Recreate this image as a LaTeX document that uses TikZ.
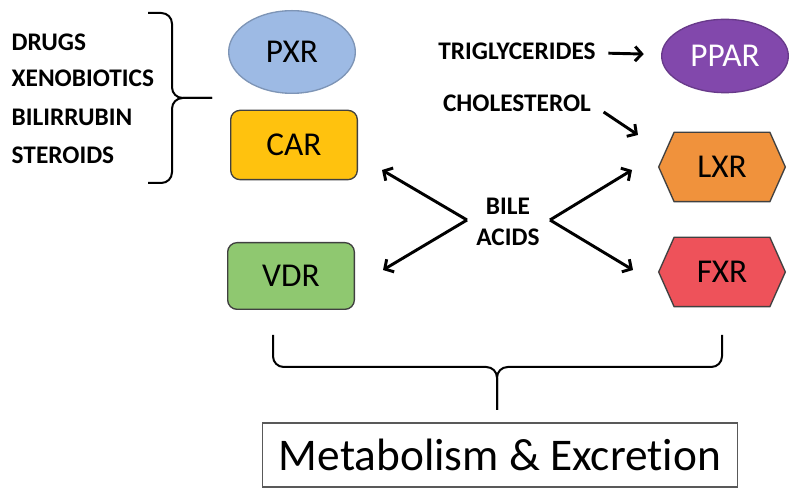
\documentclass[tikz,border=0pt]{standalone}
\usepackage{fontspec}
\setmainfont[Ligatures={NoCommon,NoRare,NoDiscretionary,NoContextual}]{Carlito}
\usetikzlibrary{arrows.meta,shapes.geometric,shapes.symbols,calc}
\definecolor{pxrblue}{RGB}{157,186,228}
\definecolor{cargold}{RGB}{255,194,14}
\definecolor{vdrgreen}{RGB}{143,200,112}
\definecolor{pparpurple}{RGB}{130,72,172}
\definecolor{lxrorange}{RGB}{240,146,60}
\definecolor{fxrred}{RGB}{238,82,90}

\begin{document}
\begin{tikzpicture}[x=0.75pt,y=-0.75pt,
    rcpt/.style={draw=black!75,line width=1pt,inner sep=0pt,
      minimum width=95pt,minimum height=52pt,
      font=\fontsize{25}{28}\selectfont},
    oval/.style={rcpt,ellipse,draw=#1!80!black,fill=#1},
    rbox/.style={rcpt,rounded corners=7pt,fill=#1},
    hexa/.style={rcpt,signal,signal to=west and east,
      signal pointer angle=132,fill=#1},
    lbl/.style={font=\bfseries\fontsize{19}{23}\selectfont},
    arr/.style={line width=2.2pt,-{Straight Barb[length=5pt,width=11pt]}},
    brc/.style={line width=1.5pt,rounded corners=8pt}]
  \useasboundingbox (0,0) rectangle (800,498);

  % receptors
  \node[oval=pxrblue,minimum height=62pt] (pxr) at (292,52) {PXR};
  \node[rbox=cargold] (car) at (294,145) {CAR};
  \node[rbox=vdrgreen,minimum height=50pt] (vdr) at (291,276) {VDR};
  \node[oval=pparpurple,minimum height=55pt,text=white] (ppar) at (725,56) {PPAR};
  \node[hexa=lxrorange] (lxr) at (722,167) {LXR};
  \node[hexa=fxrred] (fxr) at (722,272) {FXR};

  % ligands
  \node[lbl,anchor=west] (drugs) at (7,42) {DRUGS};
  \node[lbl,anchor=west] (xeno) at (7,78) {XENOBIOTICS};
  \node[lbl,anchor=west] (bili) at (7,117) {BILIRRUBIN};
  \node[lbl,anchor=west] (ster) at (7,155) {STEROIDS};
  \node[lbl] (trig) at (517,51) {TRIGLYCERIDES};
  \node[lbl] (chol) at (517,103) {CHOLESTEROL};
  \node[lbl,align=center] (bile) at (508,222) {BILE\\ACIDS};

  \draw[arr,shorten <=6pt,shorten >=13pt] (trig) -- (ppar);
  \coordinate (cholin) at (638,135);
  \draw[arr] ($(chol.east)+(8,9)$) -- (cholin);

  \coordinate (bl) at (467,220);
  \coordinate (br) at (550,220);
  \coordinate (carin) at (382,170);
  \coordinate (vdrin) at (383,270);
  \coordinate (lxrin) at (632,170);
  \coordinate (fxrin) at (633,270);
  \draw[arr] (bl) -- (carin);
  \draw[arr] (bl) -- (vdrin);
  \draw[arr] (br) -- (lxrin);
  \draw[arr] (br) -- (fxrin);

  % braces
  \coordinate (ltip) at (212,98);
  \draw[brc] (148,13) -- (172,13) -- (172,98) -- (ltip);
  \draw[brc] (148,183) -- (172,183) -- (172,98) -- (ltip);

  \node[draw=black!65,line width=0.8pt,minimum width=356pt,minimum height=48pt,
    inner sep=0pt,font=\fontsize{34}{40}\selectfont] (metab) at (500,455)
    {Metabolism \& Excretion};
  \coordinate (btip) at (497,410);
  \draw[brc] (273,335) -- (273,367) -- (497,367) -- (btip);
  \draw[brc] (722,335) -- (722,367) -- (497,367) -- (btip);
\end{tikzpicture}
\end{document}
